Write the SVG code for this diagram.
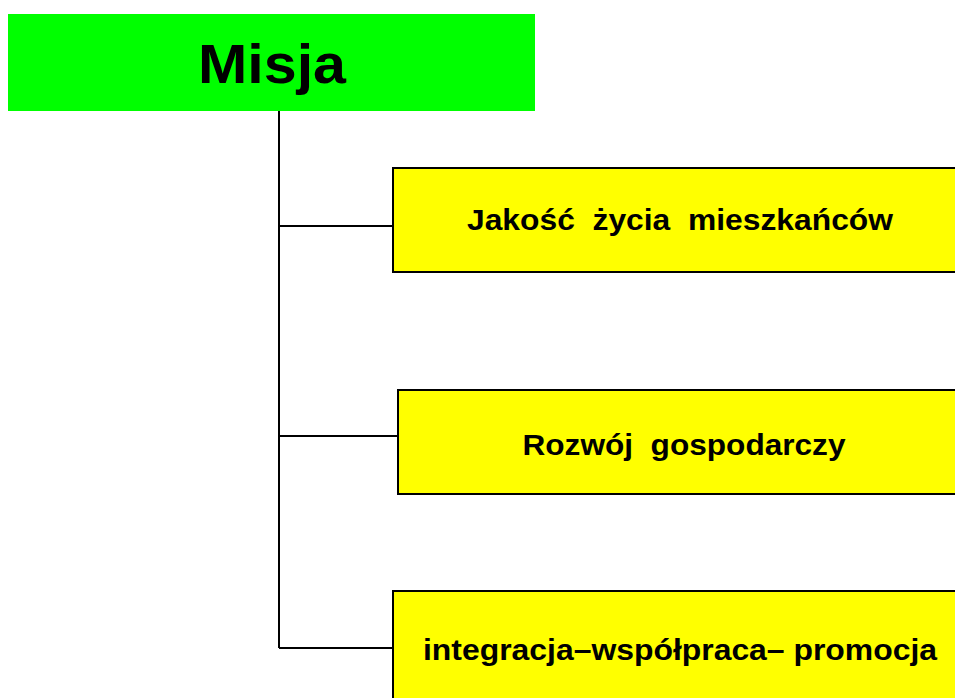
<svg xmlns="http://www.w3.org/2000/svg" width="955" height="698" viewBox="0 0 955 698">
<style>
.lbl{font-family:"Liberation Sans",Arial,sans-serif;font-weight:bold;fill:#000;text-anchor:middle;white-space:pre}
.box{fill:#ffff00;stroke:#000;stroke-width:2}
.conn{stroke:#000;stroke-width:2;fill:none}
</style>
<rect width="955" height="698" fill="#fff"/>
<g id="misja">
<rect x="8" y="14" width="527" height="97" fill="#00ff00"/>
<text class="lbl" x="272" y="83" font-size="55" textLength="148" lengthAdjust="spacingAndGlyphs">Misja</text>
</g>
<g id="connectors">
<path class="conn" d="M279 111 V648 M279 226 H393 M279 436 H398 M279 648 H393"/>
</g>
<g id="jakosc">
<rect class="box" x="393" y="168" width="570" height="104"/>
<text class="lbl" x="680" y="230" font-size="30" textLength="426" lengthAdjust="spacingAndGlyphs" xml:space="preserve">Jakość  życia  mieszkańców</text>
</g>
<g id="rozwoj">
<rect class="box" x="398" y="390" width="570" height="104"/>
<text class="lbl" x="684" y="455" font-size="30" textLength="323" lengthAdjust="spacingAndGlyphs" xml:space="preserve">Rozwój  gospodarczy</text>
</g>
<g id="integracja">
<rect class="box" x="393" y="591" width="570" height="120"/>
<text class="lbl" x="680" y="660" font-size="30" textLength="514" lengthAdjust="spacingAndGlyphs">integracja–współpraca– promocja</text>
</g>
</svg>
